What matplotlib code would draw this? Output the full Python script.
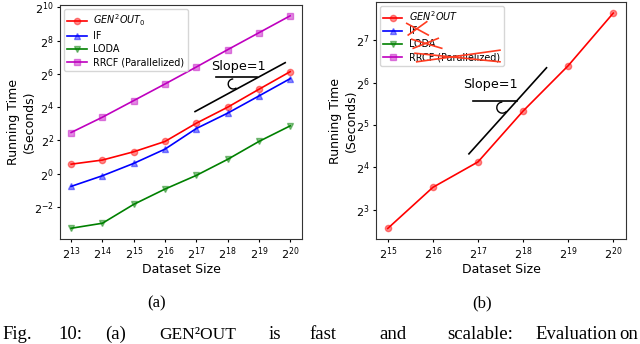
import numpy as np
import matplotlib
matplotlib.use("Agg")
import matplotlib.pyplot as plt
from matplotlib.patches import Arc
from matplotlib.transforms import ScaledTranslation
from matplotlib.ticker import FixedLocator, FuncFormatter, NullLocator

# dataset sizes and running times (seconds)
sizes_a = [8192, 16384, 32768, 65536, 131072, 262144, 524288, 1048576]
gen2out0 = [1.49, 1.77, 2.50, 3.84, 8.22, 16.0, 33.8, 70.5]
iforest = [0.59, 0.92, 1.54, 2.79, 6.59, 12.5, 25.6, 52.7]
loda = [0.103, 0.127, 0.279, 0.528, 0.933, 1.82, 3.84, 7.36]
rrcf = [5.58, 10.56, 21.1, 42.2, 85.6, 176, 357, 724]

sizes_b = [32768, 65536, 131072, 262144, 524288, 1048576]
gen2out = [5.90, 11.55, 17.5, 40.2, 84.4, 199.5]

# caption words and their centres (pixels)
cap_words = ["Fig.", "10:", "(a)", "GEN²OUT", "is", "fast", "and", "scalable:", "Evaluation", "on"]
cap_x = [17, 70, 116, 198, 275, 323, 393, 480, 576, 629]

fig = plt.figure(figsize=(6.4, 3.44), dpi=100)
ax1 = fig.add_axes([0.094, 0.305, 0.378, 0.68])
ax2 = fig.add_axes([0.5875, 0.305, 0.3905, 0.689])

sty = dict(lw=1.2, ms=4.5, mew=1.0)


def light(c, a=0.45):
    r, g, b = matplotlib.colors.to_rgb(c)
    return (r, g, b, a)


def pow2(x, pos):
    return r"$2^{%d}$" % round(np.log2(x))


ax1.plot(sizes_a, gen2out0, "-o", color="r", mfc=light("r"), label=r"$GEN^2OUT_0$", **sty)
ax1.plot(sizes_a, iforest, "-^", color="b", mfc=light("b"), label="IF", **sty)
ax1.plot(sizes_a, loda, "-v", color="g", mfc=light("g"), label="LODA", **sty)
ax1.plot(sizes_a, rrcf, "-s", color="m", mfc=light("m"), label="RRCF (Parallelized)", **sty)

ax2.plot(sizes_b, gen2out, "-o", color="r", mfc=light("r"), label=r"$GEN^2OUT$", **sty)
ax2.plot([], [], "-^", color="b", mfc=light("b"), label="IF", **sty)
ax2.plot([], [], "-v", color="g", mfc=light("g"), label="LODA", **sty)
ax2.plot([], [], "-s", color="m", mfc=light("m"), label="RRCF (Parallelized)", **sty)

for ax in (ax1, ax2):
    ax.set_xscale("log", base=2)
    ax.set_yscale("log", base=2)
    ax.xaxis.set_minor_locator(NullLocator())
    ax.yaxis.set_minor_locator(NullLocator())
    ax.xaxis.set_major_formatter(FuncFormatter(pow2))
    ax.yaxis.set_major_formatter(FuncFormatter(pow2))
    ax.tick_params(labelsize=8, length=2.5, width=0.8, pad=2)
    ax.set_xlabel("Dataset Size", fontsize=9, labelpad=0.5)
    ax.set_ylabel("Running Time\n(Seconds)", fontsize=9, labelpad=-1)
    for s in ax.spines.values():
        s.set_color("#333333")
    ax.legend(loc="upper left", fontsize=6.9, handlelength=2.0, labelspacing=0.33,
              borderpad=0.35, handletextpad=0.7, borderaxespad=0.4, framealpha=0.8)

ax1.xaxis.set_major_locator(FixedLocator(sizes_a))
ax1.yaxis.set_major_locator(FixedLocator([2.0 ** k for k in range(-2, 11, 2)]))
ax1.set_xlim(2 ** 12.65, 2 ** 20.38)
ax1.set_ylim(2 ** -3.93, 2 ** 10.14)

ax2.xaxis.set_major_locator(FixedLocator(sizes_b))
ax2.yaxis.set_major_locator(FixedLocator([2.0 ** k for k in range(3, 8)]))
ax2.set_xlim(2 ** 14.74, 2 ** 20.28)
ax2.set_ylim(2 ** 2.31, 2 ** 7.9)

# slope = 1 guides
ax1.plot([2 ** 16.96, 2 ** 19.84], [2 ** 3.74, 2 ** 6.68], color="k", lw=1.2)
ax1.plot([2 ** 17.63, 2 ** 18.95], [2 ** 5.8, 2 ** 5.8], color="k", lw=1.2)
ax1.text(2 ** 18.34, 2 ** 6.44, "Slope=1", fontsize=9.2, ha="center", va="center")
ax1.add_patch(Arc((0, 0), 0.1, 0.1, theta1=90, theta2=310, lw=1.0, color="k",
                  transform=fig.dpi_scale_trans + ScaledTranslation(2 ** 18.18, 2 ** 5.40, ax1.transData)))

ax2.plot([2 ** 16.80, 2 ** 18.52], [2 ** 4.32, 2 ** 6.35], color="k", lw=1.2)
ax2.plot([2 ** 16.88, 2 ** 17.86], [2 ** 5.565, 2 ** 5.565], color="k", lw=1.2)
ax2.text(2 ** 17.27, 2 ** 5.96, "Slope=1", fontsize=9.2, ha="center", va="center")
ax2.add_patch(Arc((0, 0), 0.11, 0.11, theta1=90, theta2=320, lw=1.0, color="k",
                  transform=fig.dpi_scale_trans + ScaledTranslation(2 ** 17.54, 2 ** 5.41, ax2.transData)))

# red crosses over the removed legend entries
crosses = [
    ([0.123, 0.209], [0.910, 0.861]), ([0.129, 0.203], [0.861, 0.917]),
    ([0.143, 0.263], [0.843, 0.805]), ([0.149, 0.249], [0.805, 0.847]),
    ([0.156, 0.496], [0.784, 0.748]), ([0.163, 0.496], [0.748, 0.797]),
]
for xs, ys in crosses:
    ax2.plot(xs, ys, color="#ff3b1f", lw=1.2, transform=ax2.transAxes, zorder=10)

serif = ["Liberation Serif", "DejaVu Serif"]
fig.text(157 / 640, 1 - 303 / 344, "(a)", fontsize=12, family=serif, ha="center", va="center")
fig.text(482 / 640, 1 - 303 / 344, "(b)", fontsize=12, family=serif, ha="center", va="center")
for w, x in zip(cap_words, cap_x):
    fs = 12.5 if w == "GEN²OUT" else 13.5
    fig.text(x / 640, 1 - 339 / 344, w, fontsize=fs, family=serif, ha="center", va="baseline")

fig.savefig("out.png", dpi=100)
